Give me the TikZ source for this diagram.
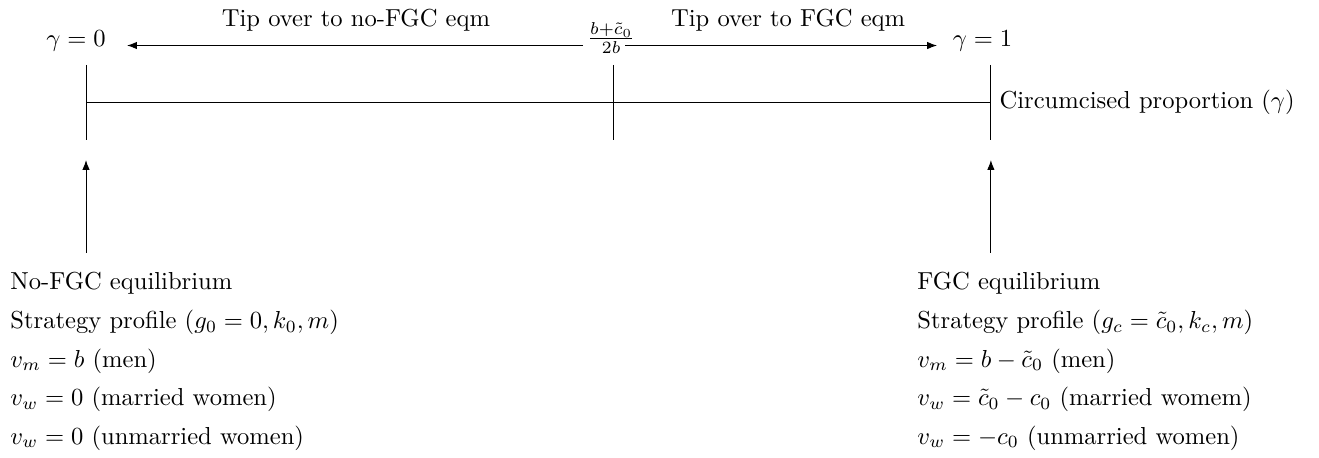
\documentclass[tikz,border=0pt]{standalone}
\usepackage{amsmath, amssymb}
\usetikzlibrary{arrows.meta}

\begin{document}
\begin{tikzpicture}[
  lab/.style={font=\normalsize},
  eq/.style={anchor=north west, align=left, inner sep=0pt, font=\normalsize},
  arr/.style={-{Latex[length=4pt, width=3pt]}, line width=0.4pt}]
\useasboundingbox (-1.23, 1.459) rectangle (17.632, -5.077);
% the proportion axis
\coordinate (g0) at (0, 0);
\coordinate (gt) at (7.55, 0);
\coordinate (g1) at (12.94, 0);
\draw (g0) -- (g1);
\foreach \c in {g0, gt, g1} \draw ([yshift=0.53cm]\c) -- ([yshift=-0.54cm]\c);
\node[right] (ax) at (g1) {Circumcised proportion ($\gamma$)};
% tipping point and the two directions
\node[anchor=base] (z0) at (-0.143, 0.80) {$\gamma=0$};
\node[anchor=base] (z1) at (12.82, 0.80) {$\gamma=1$};
\node (thr) at (7.51, 0.915) {$\frac{b+\tilde{c}_0}{2b}$};
\coordinate (ls) at (7.107, 0.808); \coordinate (le) at (0.586, 0.808);
\coordinate (rs) at (7.708, 0.808); \coordinate (re) at (12.17, 0.808);
\draw[arr] (ls) -- (le);
\draw[arr] (rs) -- (re);
\node[lab] (tl0) at (3.86, 1.173) {Tip over to no-FGC eqm};
\node[lab] (tl1) at (10.04, 1.173) {Tip over to FGC eqm};
% equilibria
\coordinate (b0) at (0, -2.159); \coordinate (t0) at (0, -0.829);
\coordinate (b1) at (12.94, -2.159); \coordinate (t1) at (12.94, -0.829);
\draw[arr] (b0) -- (t0);
\draw[arr] (b1) -- (t1);
\node[eq] (e0) at (-1.087, -2.431) {No-FGC equilibrium\\[3.7pt]
  Strategy profile $(g_0=0,k_0,m)$\\[3.7pt]
  $v_m=b$ (men)\\[3.7pt]
  $v_w=0$ (married women)\\[3.7pt]
  $v_w=0$ (unmarried women)};
\node[eq] (e1) at (11.883, -2.431) {FGC equilibrium\\[3.7pt]
  Strategy profile $(g_c=\tilde{c}_0,k_c,m)$\\[3.7pt]
  $v_m=b-\tilde{c}_0$ (men)\\[3.7pt]
  $v_w=\tilde{c}_0-c_0$ (married womem)\\[3.7pt]
  $v_w=-c_0$ (unmarried women)};
\end{tikzpicture}
\end{document}
